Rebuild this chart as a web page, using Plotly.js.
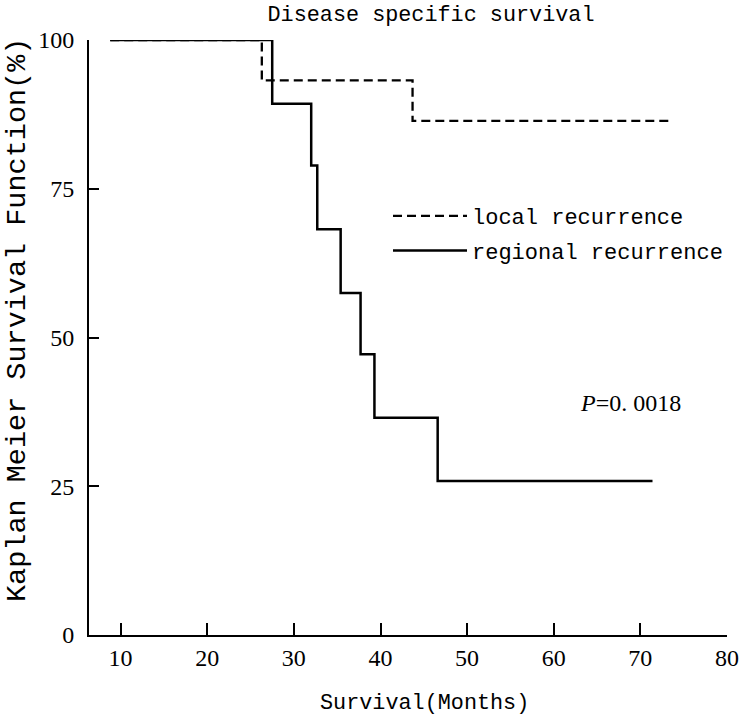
<!DOCTYPE html>
<html>
<head>
<meta charset="utf-8">
<script src="https://cdn.plot.ly/plotly-3.0.1.min.js"></script>
<style>html,body{margin:0;padding:0;background:#fff;}#chart{width:742px;height:716px;}</style>
</head>
<body>
<div id="chart"></div>
<script>
// Data
const localMonths = [8.8, 26.3, 43.7, 73.6];
const localSurvival = [100, 93.2, 86.4, 86.4];
const regionalMonths = [8.8, 27.5, 32.0, 32.7, 35.4, 37.7, 39.3, 46.6, 71.4];
const regionalSurvival = [100, 89.3, 78.9, 68.2, 57.5, 47.2, 36.5, 25.9, 25.9];
const xTicks = [10, 20, 30, 40, 50, 60, 70, 80];
const yTicks = [0, 25, 50, 75, 100];
const seriesNames = ["local recurrence", "regional recurrence"];

const mono = "Liberation Mono, Courier New, monospace";
const serif = "Liberation Serif, Times New Roman, serif";

const traces = [
  {
    x: localMonths, y: localSurvival, name: seriesNames[0], legendgroup: "g1",
    type: "scatter", mode: "lines", line: {shape: "hv", color: "#000", width: 2.3, dash: "9px,5px"}
  },
  {
    x: regionalMonths, y: regionalSurvival, name: seriesNames[1], legendgroup: "g2",
    type: "scatter", mode: "lines", line: {shape: "hv", color: "#000", width: 2.5}
  }
];

const layout = {
  width: 742, height: 716,
  margin: {l: 89, r: 15, t: 40, b: 81},
  paper_bgcolor: "#fff", plot_bgcolor: "#fff",
  showlegend: true,
  legend: {
    x: (388 - 89) / 638, y: (635 - 195) / 595, xanchor: "left", yanchor: "top",
    font: {family: mono, size: 22, color: "#000"},
    bgcolor: "rgba(0,0,0,0)", itemwidth: 74, tracegroupgap: 3
  },
  title: {
    text: "Disease specific survival",
    font: {family: mono, size: 21.8, color: "#000"},
    xref: "container", yref: "container", x: 431/742, xanchor: "center", y: 1 - 13/716, yanchor: "middle"
  },
  xaxis: {
    range: [6.35, 80], tickvals: xTicks, ticktext: xTicks.map(String),
    ticks: "inside", ticklen: 12, tickwidth: 2, tickcolor: "#000",
    showline: true, linewidth: 2, linecolor: "#000", showgrid: false, zeroline: false,
    tickfont: {family: serif, size: 24, color: "#000"}, fixedrange: true
  },
  yaxis: {
    range: [0, 100], tickvals: yTicks, ticktext: yTicks.map(String),
    ticks: "inside", ticklen: 10, tickwidth: 2, tickcolor: "#000",
    showline: true, linewidth: 2, linecolor: "#000", showgrid: false, zeroline: false,
    tickfont: {family: serif, size: 24, color: "#000"}, fixedrange: true, ticklabelstandoff: 8
  },
  annotations: [
    {text: "Survival(Months)", xref: "paper", yref: "paper", x: (424 - 89) / 638, y: (635 - 703) / 595,
     xanchor: "center", yanchor: "middle", showarrow: false, font: {family: mono, size: 21.8, color: "#000"}},
    {text: "Kaplan Meier Survival Function(%)", xref: "paper", yref: "paper", x: (17 - 89) / 638, y: (635 - 320) / 595,
     xanchor: "center", yanchor: "middle", textangle: -90, showarrow: false, font: {family: mono, size: 28.5, color: "#000"}},
    {text: "<i>P</i>=0. 0018", xref: "paper", yref: "paper", x: (578 - 89) / 638, y: (635 - 403) / 595,
     xanchor: "left", yanchor: "middle", showarrow: false, font: {family: serif, size: 24, color: "#000"}}
  ]
};

Plotly.newPlot("chart", traces, layout, {displayModeBar: false, staticPlot: true});
</script>
</body>
</html>
